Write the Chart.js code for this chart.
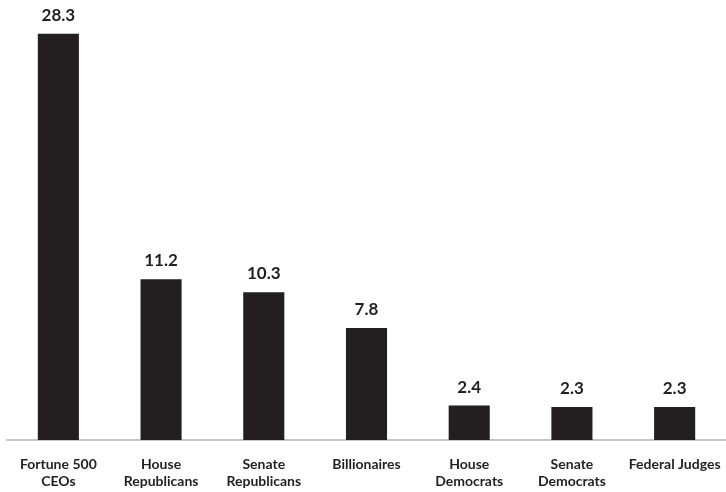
<!DOCTYPE html>
<html>
<head>
  <title>Bar chart</title>
  <script src="https://cdn.jsdelivr.net/npm/chart.js"></script>
  <style>
    body { margin: 0; background: #fff; }
    #wrap { width: 726px; height: 492px; }
  </style>
</head>
<body>
  <div id="wrap"><canvas id="chart" width="726" height="492"></canvas></div>

  <script>
    const categories = [
      ["Fortune 500", "CEOs"],
      ["House", "Republicans"],
      ["Senate", "Republicans"],
      ["Billionaires"],
      ["House", "Democrats"],
      ["Senate", "Democrats"],
      ["Federal Judges"]
    ];
    const values = [28.3, 11.2, 10.3, 7.8, 2.4, 2.3, 2.3];

    const ink = "#231f20";
    const fontFamily = "Lato, 'Open Sans', sans-serif";

    // value labels above each bar
    const valueLabels = {
      id: "valueLabels",
      afterDatasetsDraw(chart) {
        const c = chart.ctx;
        const meta = chart.getDatasetMeta(0);
        c.save();
        c.fillStyle = ink;
        c.font = "bold 17px " + fontFamily;
        c.textAlign = "center";
        c.textBaseline = "bottom";
        meta.data.forEach((bar, i) => {
          c.fillText(values[i].toFixed(1), bar.x, bar.y - 10);
        });
        c.restore();
      }
    };

    const ctx = document.getElementById("chart").getContext("2d");
    new Chart(ctx, {
      type: "bar",
      data: {
        labels: categories,
        datasets: [{
          data: values,
          backgroundColor: ink,
          barPercentage: 0.4,
          categoryPercentage: 1.0
        }]
      },
      options: {
        responsive: false,
        animation: false,
        layout: { padding: { left: 7, right: -9, top: 0, bottom: 0 } },
        plugins: {
          legend: { display: false },
          tooltip: { enabled: false }
        },
        scales: {
          x: {
            grid: { display: false, drawTicks: false },
            border: { color: "#c4c4c4", width: 2 },
            afterFit(scale) {
              scale.height = 52;
              scale.paddingLeft = 0;
              scale.paddingRight = 0;
            },
            ticks: {
              color: ink,
              padding: 16,
              maxRotation: 0,
              autoSkip: false,
              font: { family: fontFamily, size: 14, weight: "bold", lineHeight: 1.2 }
            }
          },
          y: {
            display: false,
            min: 0,
            max: 30.66
          }
        }
      },
      plugins: [valueLabels]
    });
  </script>
</body>
</html>
